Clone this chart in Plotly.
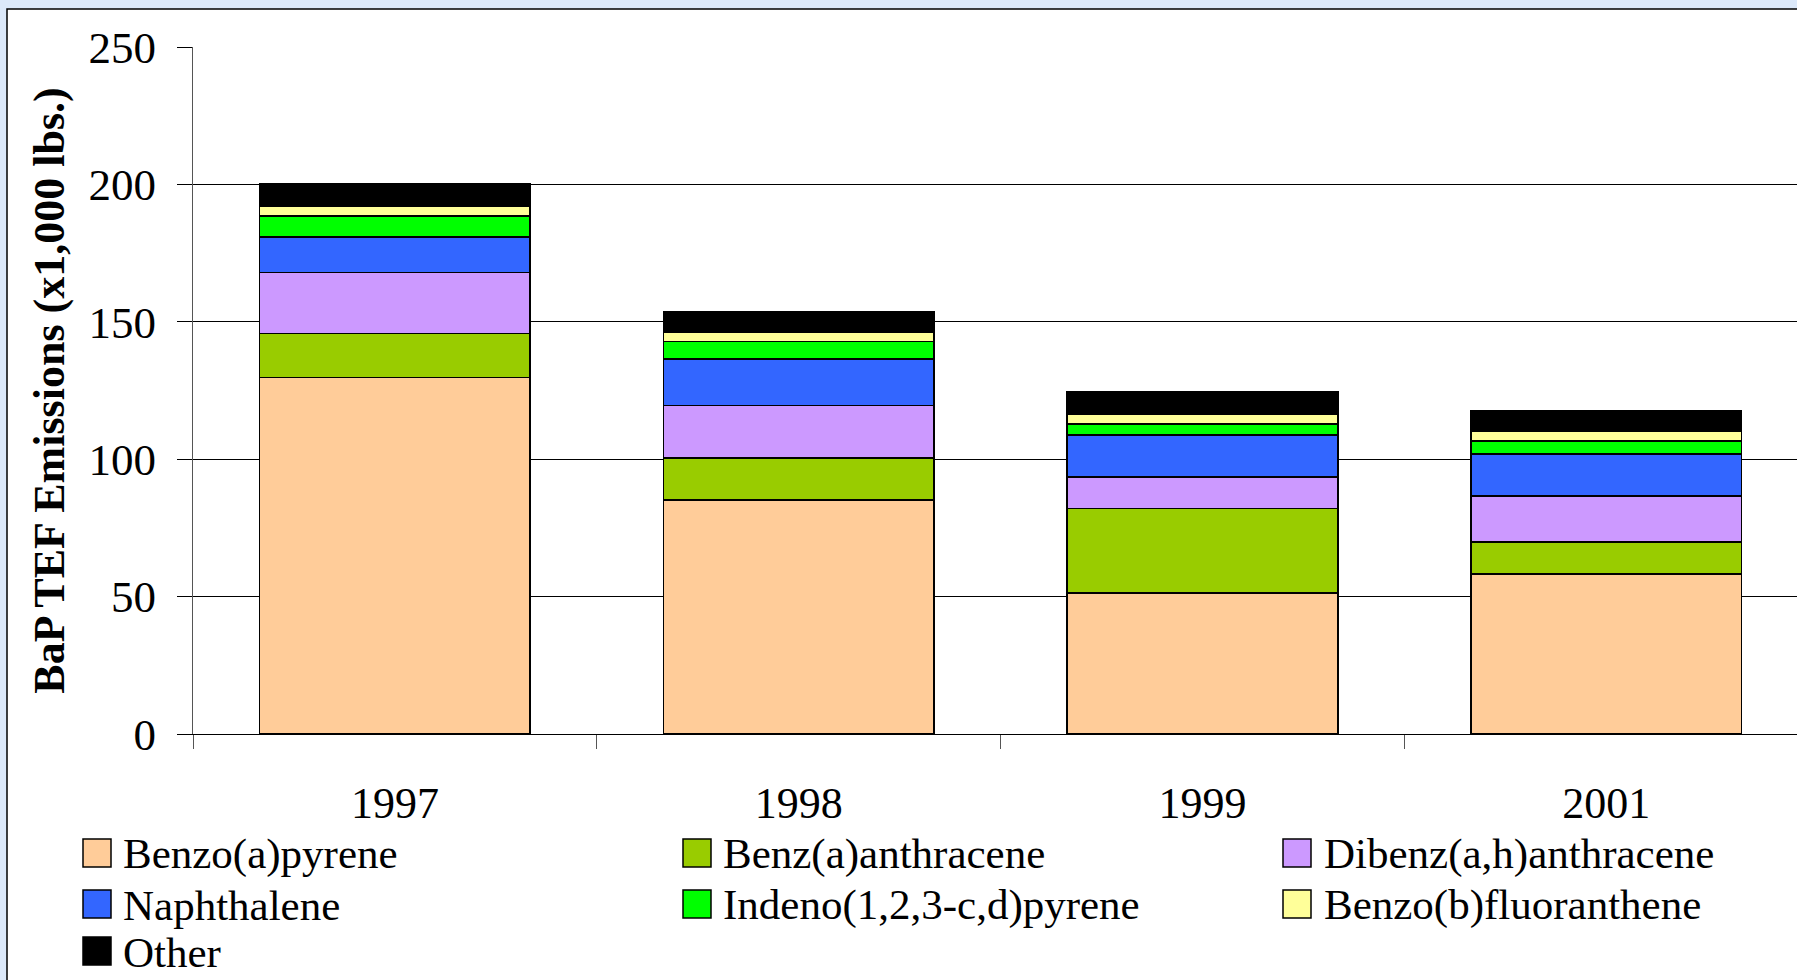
import plotly.graph_objects as go

years = ["1997", "1998", "1999", "2001"]
benzo_a_pyrene = [129.7, 85.2, 51.4, 58.3]
benz_a_anthracene = [16.1, 15.2, 30.7, 11.6]
dibenz_ah_anthracene = [22.2, 19.2, 11.5, 16.8]
naphthalene = [12.9, 16.9, 15.3, 15.3]
indeno_pyrene = [7.7, 6.3, 3.9, 4.6]
benzo_b_fluoranthene = [3.6, 3.3, 3.5, 3.5]
other = [8.1, 7.5, 8.2, 7.5]

series_names = ["Benzo(a)pyrene", "Benz(a)anthracene", "Dibenz(a,h)anthracene",
                "Naphthalene", "Indeno(1,2,3-c,d)pyrene", "Benzo(b)fluoranthene", "Other"]
series_values = [benzo_a_pyrene, benz_a_anthracene, dibenz_ah_anthracene,
                 naphthalene, indeno_pyrene, benzo_b_fluoranthene, other]
series_colors = ["#FFCC99", "#99CC00", "#CC99FF", "#3366FF", "#00FF00", "#FFFF99", "#000000"]

W, H = 1797, 980
ML, MT = 193, 47
PB = 734  # pixel y of the x axis
MB = H - PB
PW = W - ML
PH = PB - MT
cat_px = 403.8

def px_x(p):
    return (p - ML) / PW

def px_y(p):
    return (PB - p) / PH

FONT = "Liberation Serif, Times New Roman, serif"

fig = go.Figure()
for name, vals, col in zip(series_names, series_values, series_colors):
    fig.add_trace(go.Bar(
        x=years, y=vals, name=name, marker_color=col,
        marker_line_color="#000000", marker_line_width=1.6,
        width=0.67, showlegend=False,
    ))

shapes = [dict(type="rect", xref="paper", yref="paper", layer="below",
               x0=px_x(7), x1=px_x(W + 60), y0=px_y(H + 60), y1=px_y(9),
               fillcolor="#FFFFFF", line=dict(color="#000000", width=1.5))]
annotations = []

# custom legend (3 columns)
col_sq_x = [83, 683, 1283]
col_tx_x = [121, 721, 1322]
row_cy = [853, 904, 951]
for i, (name, col) in enumerate(zip(series_names, series_colors)):
    r, c = divmod(i, 3)
    cy = row_cy[r]
    x0 = col_sq_x[c]
    shapes.append(dict(type="rect", xref="paper", yref="paper",
                       x0=px_x(x0), x1=px_x(x0 + 28), y0=px_y(cy + 14), y1=px_y(cy - 14),
                       fillcolor=col, line=dict(color="#000000", width=1.5)))
    annotations.append(dict(xref="paper", yref="paper", x=px_x(col_tx_x[c]), y=px_y(cy + 1),
                            xanchor="left", yanchor="middle", showarrow=False, text=name,
                            font=dict(family=FONT, size=43, color="#000000")))

fig.update_layout(
    width=W, height=H,
    margin=dict(l=ML, r=0, t=MT, b=MB, autoexpand=False),
    paper_bgcolor="#DCE9FA", plot_bgcolor="#FFFFFF",
    barmode="stack",
    shapes=shapes, annotations=annotations,
    font=dict(family=FONT, color="#000000"),
)
fig.update_xaxes(
    type="category", range=[-0.5, -0.5 + PW / cat_px],
    showline=True, linecolor="#000000", linewidth=1.2,
    ticks="outside", tickson="boundaries", ticklen=14, tickcolor="#555555", tickwidth=1.2,
    tickfont=dict(family=FONT, size=44, color="#000000"), ticklabelstandoff=30,
    showgrid=False,
)
fig.update_yaxes(
    range=[0, 250], dtick=50, tick0=0,
    showline=True, linecolor="#555555", linewidth=1.2,
    ticks="outside", ticklen=15, tickcolor="#000000", tickwidth=1.2,
    showgrid=True, gridcolor="#000000", gridwidth=1.2, zeroline=False,
    tickfont=dict(family=FONT, size=45, color="#000000"), ticklabelstandoff=12,
    title=dict(text="<b>BaP TEF Emissions (x1,000 lbs.)</b>", standoff=10,
               font=dict(family=FONT, size=44, color="#000000")),
)

fig.write_html(
    "out.html",
    config={"displayModeBar": False},
    post_script="document.body.style.margin='0';document.body.style.overflow='hidden';",
)
